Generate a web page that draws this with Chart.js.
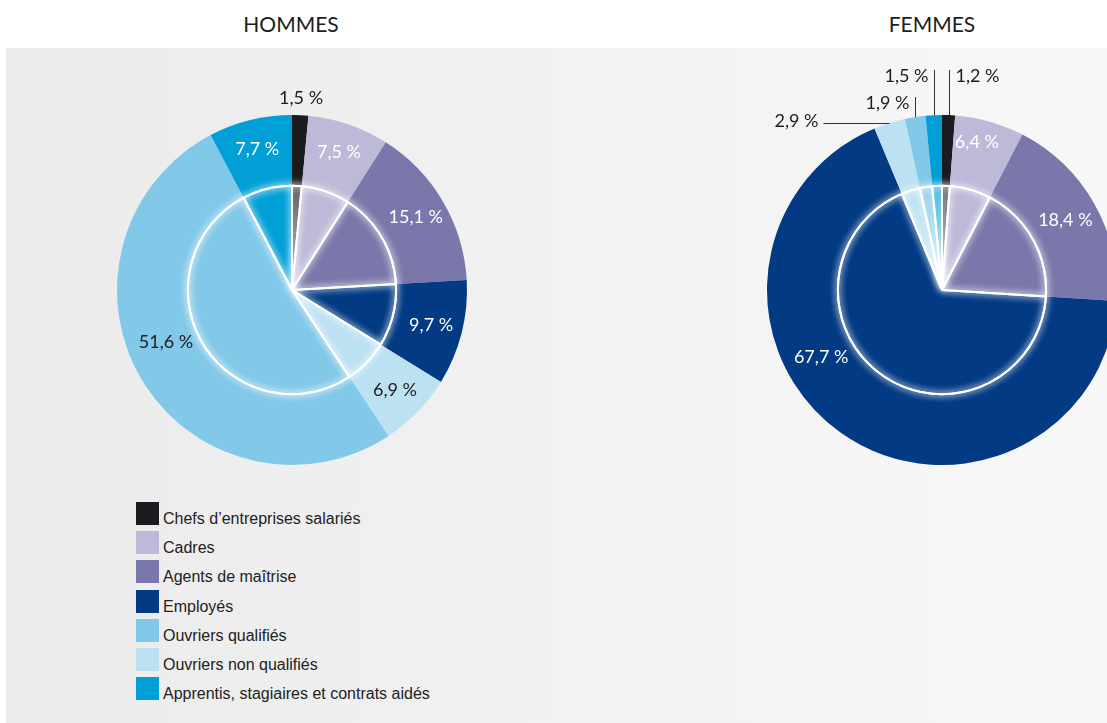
<!DOCTYPE html>
<html lang="fr">
<head>
<meta charset="utf-8">
<title>Hommes / Femmes</title>
<script src="https://cdn.jsdelivr.net/npm/chart.js@4.4.1/dist/chart.umd.min.js"></script>
<style>
    html, body {
        margin: 0;
        width: 1107px;
        height: 723px;
        overflow: hidden;
        background: #ffffff;
        font-family: "Liberation Sans", Arial, sans-serif;
    }
    .panel {
        position: absolute;
        left: 6px;
        top: 48px;
        right: 0;
        bottom: 0;
        background: linear-gradient(to right, #ebebeb, #f8f8f8);
    }
    .title {
        position: absolute;
        top: 12px;
        width: 200px;
        margin-left: -100px;
        text-align: center;
        font-family: Lato, "Liberation Sans", sans-serif;
        font-size: 21px;
        line-height: 24px;
        color: #1e1e20;
    }
    canvas {
        position: absolute;
    }
    #legend {
        position: absolute;
        left: 136px;
        top: 502px;
    }
    .row {
        position: relative;
        height: 29.2px;
    }
    .swatch {
        position: absolute;
        left: 0;
        top: 0;
        width: 23px;
        height: 23px;
    }
    .row span {
        position: absolute;
        left: 27px;
        top: 8px;
        white-space: nowrap;
        font-size: 16px;
        line-height: 18px;
        color: #222222;
    }
</style>
</head>
<body>
<div class="panel"></div>
<div class="title" style="left: 291px;">HOMMES</div>
<div class="title" style="left: 932px;">FEMMES</div>
<canvas id="hommes" width="450" height="450" style="left: 67px; top: 50px;"></canvas>
<canvas id="femmes" width="450" height="450" style="left: 717px; top: 50px;"></canvas>
<div id="legend"></div>
<script>
// slices, clockwise from the top
const categories = [
    `Chefs d’entreprises salariés`,
    `Cadres`,
    `Agents de maîtrise`,
    `Employés`,
    `Ouvriers non qualifiés`,
    `Ouvriers qualifiés`,
    `Apprentis, stagiaires et contrats aidés`,
];
const hommes = [1.5, 7.5, 15.1, 9.7, 6.9, 51.6, 7.7];
const femmes = [1.2, 6.4, 18.4, 67.7, 2.9, 1.9, 1.5];
const colors = [`#1b1a1f`, `#bdb9d8`, `#7a78ab`, `#023a84`, `#bbe1f3`, `#82c9e9`, `#00a0d7`];
// the legend lists the categories in another order
const legendOrder = [0, 1, 2, 3, 5, 4, 6];

const DARK = `#1e1e20`;
const LABEL_FONT = `18px Lato, "Liberation Sans", sans-serif`;

const formatPercent = function (value) {
    return `${value.toFixed(1).replace(`.`, `,`)} %`;
};

// where each percentage goes: r is a fraction of the radius, turn nudges the angle (degrees),
// callouts are drawn with a leader line
const hommesLabels = [
    { r: 1.1, color: DARK },
    { r: 0.83, color: `#fff` },
    { r: 0.82, color: `#fff` },
    { r: 0.82, color: `#fff` },
    { r: 0.82, color: DARK },
    { r: 0.78, turn: 8, color: DARK },
    { r: 0.83, color: `#fff` },
];
const femmesLabels = [
    { callout: `up`, top: 220, side: `right` },
    { r: 0.87, turn: -2.6, color: `#fff` },
    { r: 0.81, color: `#fff` },
    { r: 0.79, turn: 25.5, color: `#fff` },
    { callout: `left`, length: 66 },
    { callout: `up`, top: 193, side: `left` },
    { callout: `up`, top: 220, side: `left` },
];

// white circle and spokes inside the pie, with a soft glow
const innerRing = {
    id: `innerRing`,
    afterDatasetsDraw(chart) {
        const arcs = chart.getDatasetMeta(0).data;
        const { x, y, outerRadius } = arcs[0];
        const r = outerRadius * 0.595;
        const ctx = chart.ctx;
        ctx.save();
        ctx.strokeStyle = `#ffffff`;
        ctx.lineWidth = 2;
        ctx.shadowColor = `rgba(255, 255, 255, 0.9)`;
        ctx.shadowBlur = 7;
        for (let pass = 0; pass < 2; pass += 1) {
            ctx.beginPath();
            ctx.arc(x, y, r, 0, Math.PI * 2);
            arcs.forEach(arc => {
                ctx.moveTo(x, y);
                ctx.lineTo(x + r * Math.cos(arc.startAngle), y + r * Math.sin(arc.startAngle));
            });
            ctx.stroke();
        }
        ctx.restore();
    },
};

const percentLabels = {
    id: `percentLabels`,
    afterDatasetsDraw(chart, args, options) {
        const arcs = chart.getDatasetMeta(0).data;
        const values = chart.data.datasets[0].data;
        const ctx = chart.ctx;
        ctx.save();
        ctx.font = LABEL_FONT;
        ctx.textBaseline = `middle`;
        arcs.forEach((arc, i) => {
            const spec = options.specs[i];
            const text = formatPercent(values[i]);
            const mid = (arc.startAngle + arc.endAngle) / 2;
            if (spec.callout) {
                const ex = arc.x + arc.outerRadius * Math.cos(mid);
                const ey = arc.y + arc.outerRadius * Math.sin(mid);
                ctx.strokeStyle = `#333333`;
                ctx.lineWidth = 1;
                ctx.fillStyle = DARK;
                ctx.beginPath();
                if (spec.callout === `up`) {
                    const lx = Math.round(ex) + 0.5;
                    const ty = arc.y - spec.top;
                    ctx.moveTo(lx, ey);
                    ctx.lineTo(lx, ty);
                    ctx.stroke();
                    if (spec.side === `right`) {
                        ctx.textAlign = `left`;
                        ctx.fillText(text, lx + 6, ty + 6);
                    } else {
                        ctx.textAlign = `right`;
                        ctx.fillText(text, lx - 6, ty + 6);
                    }
                } else {
                    const ly = Math.round(ey) + 0.5;
                    ctx.moveTo(ex, ly);
                    ctx.lineTo(ex - spec.length, ly);
                    ctx.stroke();
                    ctx.textAlign = `right`;
                    ctx.fillText(text, ex - spec.length - 5, ly - 2);
                }
                return;
            }
            const angle = mid + (spec.turn || 0) * Math.PI / 180;
            const r = arc.outerRadius * spec.r;
            ctx.textAlign = `center`;
            ctx.fillStyle = spec.color;
            ctx.fillText(text, arc.x + r * Math.cos(angle), arc.y + r * Math.sin(angle));
        });
        ctx.restore();
    },
};

const makePie = function (canvasId, values, specs) {
    return new Chart(document.getElementById(canvasId), {
        type: `pie`,
        data: {
            labels: categories,
            datasets: [
                {
                    data: values,
                    backgroundColor: colors,
                    borderWidth: 0,
                    hoverOffset: 0,
                },
            ],
        },
        options: {
            responsive: false,
            animation: false,
            events: [],
            layout: {
                padding: { left: 50, right: 50, top: 65, bottom: 35 },
            },
            plugins: {
                legend: { display: false },
                tooltip: { enabled: false },
                percentLabels: { specs },
            },
        },
        plugins: [innerRing, percentLabels],
    });
};

makePie(`hommes`, hommes, hommesLabels);
makePie(`femmes`, femmes, femmesLabels);

const legend = document.getElementById(`legend`);
legendOrder.forEach(i => {
    const row = document.createElement(`div`);
    row.className = `row`;
    const swatch = document.createElement(`div`);
    swatch.className = `swatch`;
    swatch.style.background = colors[i];
    const label = document.createElement(`span`);
    label.textContent = categories[i];
    row.append(swatch, label);
    legend.append(row);
});
</script>
</body>
</html>
